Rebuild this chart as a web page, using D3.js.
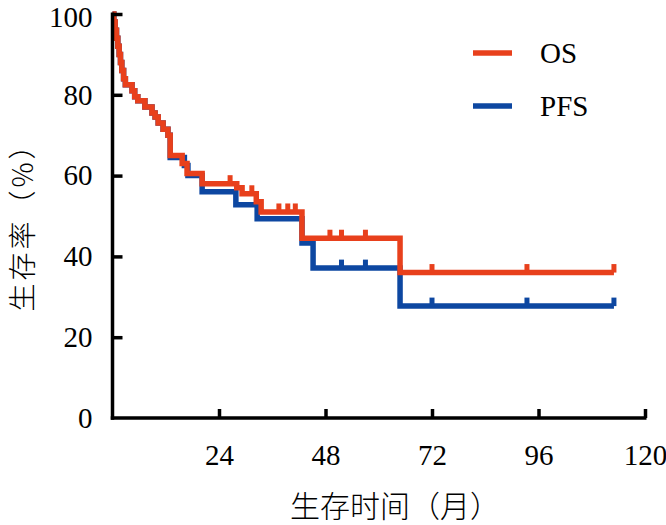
<!DOCTYPE html>
<html>
<head>
<meta charset="utf-8">
<script src="https://cdn.jsdelivr.net/npm/d3@7"></script>
<style>
  html, body { margin: 0; padding: 0; background: #fff; }
  svg { display: block; }
</style>
</head>
<body>
<svg id="chart" width="666" height="525"></svg>
<script>
// ---- data ----
const seriesNames = ["OS", "PFS"];
const osTime = [0, 0.3, 0.6, 0.9, 1.2, 1.5, 1.8, 2.1, 2.5, 2.9, 4.4, 5.0, 5.7, 7.3, 8.9, 9.6, 10.3, 11.4, 12.5, 13.0, 15.7, 16.8, 20.2, 28.0, 29.2, 32.4, 33.5, 42.7, 64.8, 113];
const osSurv = [100, 98, 96, 94, 92, 90, 88, 86, 84, 82.5, 81, 79.5, 78.5, 77, 75.5, 74.5, 73, 71.5, 70, 65, 63, 60.5, 58, 57, 55.5, 53.5, 51, 44.5, 36, 36];
const pfsTime = [0, 0.3, 0.6, 0.9, 1.2, 1.5, 1.8, 2.1, 2.5, 2.9, 4.4, 5.0, 5.7, 7.3, 8.9, 9.6, 10.3, 11.4, 12.5, 13.0, 16.2, 17.0, 20.2, 27.8, 32.6, 42.7, 45.2, 64.8, 113];
const pfsSurv = [100, 98, 96, 94, 92, 90, 88, 86, 84, 82.5, 81, 79.5, 78.5, 77, 75.5, 74.5, 73, 71.5, 70, 64.5, 62.5, 60, 56, 52.8, 49.3, 43.3, 37.1, 27.7, 27.7];
const osCensor = [26.5, 31.4, 37.5, 39.5, 41.2, 49.0, 51.6, 57.0, 72, 93.4, 113];
const pfsCensor = [51.6, 57.0, 72, 93.4, 113];
const xTicks = [24, 48, 72, 96, 120];
const yTicks = [0, 20, 40, 60, 80, 100];
const xTitle = "生存时间（月）";
const yTitle = "生存率（%）";

// ---- layout ----
const svg = d3.select("#chart");
const x = d3.scaleLinear().domain([0, 120]).range([112.5, 645]);
const y = d3.scaleLinear().domain([0, 100]).range([418, 14]);
const colors = { OS: "#e8401c", PFS: "#0d47a1" };
const serif = "'Liberation Serif', 'Times New Roman', serif";
const cjk = "'Noto Sans CJK SC', 'Noto Sans CJK JP', sans-serif";

const makeData = (t, s) => t.map((d, i) => ({ t: d, s: s[i] }));
const series = [
  { name: "PFS", data: makeData(pfsTime, pfsSurv), censor: pfsCensor },
  { name: "OS", data: makeData(osTime, osSurv), censor: osCensor }
];

const line = d3.line().x(d => x(d.t)).y(d => y(d.s)).curve(d3.curveStepAfter);

function survAt(data, t) {
  let v = data[0].s;
  for (const d of data) { if (d.t <= t) v = d.s; }
  return v;
}

series.forEach(sr => {
  const g = svg.append("g");
  g.append("path")
    .datum(sr.data)
    .attr("fill", "none")
    .attr("stroke", colors[sr.name])
    .attr("stroke-width", 5.5)
    .attr("stroke-linejoin", "miter")
    .attr("d", line);
  g.selectAll("line.c")
    .data(sr.censor)
    .join("line")
    .attr("x1", d => x(d)).attr("x2", d => x(d))
    .attr("y1", d => y(survAt(sr.data, d)))
    .attr("y2", d => y(survAt(sr.data, d)) - 8.5)
    .attr("stroke", colors[sr.name])
    .attr("stroke-width", 5);
});

// axes
const xAxis = d3.axisBottom(x).tickValues(xTicks).tickSize(-9).tickSizeOuter(0).tickPadding(26);
const yAxis = d3.axisLeft(y).tickValues(yTicks).tickSize(-10).tickSizeOuter(0).tickPadding(20);

const gx = svg.append("g").attr("transform", "translate(0,418)").call(xAxis);
const gy = svg.append("g").attr("transform", "translate(112.5,0)").call(yAxis);
[gx, gy].forEach(g => {
  g.select(".domain").attr("stroke", "#000").attr("stroke-width", 3.5);
  g.selectAll(".tick line").attr("stroke", "#000").attr("stroke-width", 3.5);
  g.selectAll(".tick text").attr("fill", "#000").style("font-family", serif).style("font-size", "29px");
});
gy.selectAll(".tick").filter(d => d === 0).select("line").remove();
// keep the top label inside the picture
gy.selectAll(".tick").filter(d => d === 100).select("text").attr("dy", "0.44em");
// extend axes to meet at the corner
gy.select(".domain").attr("d", `M0,${y(100) - 1.5}V${y(0) + 1.75}`);
gx.select(".domain").attr("d", `M${x(0) - 1.75},0H${x(120) + 1.5}`);

// titles
svg.append("text")
  .attr("x", 395).attr("y", 517)
  .attr("text-anchor", "middle")
  .style("font-family", cjk).style("font-size", "30px").style("font-weight", 300)
  .text(xTitle);
svg.append("text")
  .attr("transform", "translate(33,220) rotate(-90)")
  .attr("text-anchor", "middle")
  .style("font-family", cjk).style("font-size", "28px").style("font-weight", 300)
  .style("letter-spacing", "3px")
  .text(yTitle);

// legend
const legend = svg.append("g");
seriesNames.forEach((n, i) => {
  const ly = 53 + i * 53;
  legend.append("line")
    .attr("x1", 473).attr("x2", 512).attr("y1", ly).attr("y2", ly)
    .attr("stroke", colors[n]).attr("stroke-width", 5.5);
  legend.append("text")
    .attr("x", 540).attr("y", ly + 10)
    .style("font-family", serif).style("font-size", "29px")
    .text(n);
});
</script>
</body>
</html>
